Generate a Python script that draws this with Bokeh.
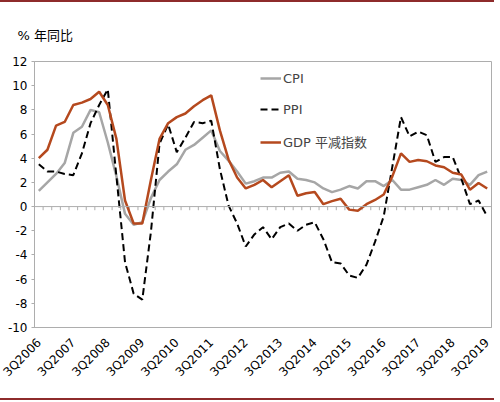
import numpy as np
from bokeh.plotting import figure
from bokeh.models import (ColumnDataSource, Range1d, FixedTicker, Span, Title,
                          Legend, LegendItem, Div)
from bokeh.layouts import column
from bokeh.embed import file_html
from bokeh.resources import INLINE

# ---------------- data ----------------
quarters = []
for yr in range(2006, 2020):
    for q in range(1, 5):
        if (yr == 2006 and q < 3) or (yr == 2019 and q > 3):
            continue
        quarters.append(f"{q}Q{yr}")

tick_labels = ["3Q2006", "3Q2007", "3Q2008", "3Q2009", "3Q2010", "3Q2011", "3Q2012",
               "3Q2013", "3Q2014", "3Q2015", "3Q2016", "3Q2017", "3Q2018", "3Q2019"]

cpi = [1.3, 2.0,
       2.7, 3.6, 6.1, 6.6,
       8.0, 7.8, 5.3, 2.5,
       -0.6, -1.5, -1.3, 0.7,
       2.2, 2.9, 3.5, 4.7,
       5.1, 5.7, 6.3, 4.6,
       3.8, 2.9, 1.9, 2.1,
       2.4, 2.4, 2.8, 2.9,
       2.3, 2.2, 2.0, 1.5,
       1.2, 1.4, 1.7, 1.5,
       2.1, 2.1, 1.7, 2.2,
       1.4, 1.4, 1.6, 1.8,
       2.2, 1.8, 2.3, 2.2,
       1.8, 2.6, 2.9]

ppi = [3.5, 2.9,
       2.9, 2.7, 2.6, 4.4,
       6.9, 8.4, 9.7, 2.5,
       -4.6, -7.2, -7.7, -2.1,
       5.2, 6.8, 4.5, 5.7,
       7.0, 6.9, 7.1, 3.1,
       0.1, -1.4, -3.3, -2.3,
       -1.7, -2.7, -1.7, -1.4,
       -2.0, -1.5, -1.3, -2.7,
       -4.6, -4.7, -5.7, -5.9,
       -4.8, -2.9, -0.8, 3.3,
       7.4, 5.8, 6.2, 5.9,
       3.7, 4.1, 4.1, 2.3,
       0.2, 0.5, -0.8]

gdp = [4.0, 4.7,
       6.7, 7.0, 8.4, 8.6,
       8.9, 9.5, 8.4, 5.6,
       0.5, -1.4, -1.4, 2.2,
       5.6, 6.9, 7.4, 7.7,
       8.3, 8.8, 9.2, 6.3,
       3.9, 2.4, 1.5, 1.8,
       2.2, 1.6, 2.1, 2.6,
       0.9, 1.1, 1.2, 0.2,
       0.45, 0.65, -0.25, -0.35,
       0.2, 0.55, 1.0, 2.5,
       4.4, 3.7, 3.85, 3.75,
       3.4, 3.25, 2.8, 2.65,
       1.4, 1.95, 1.5]

y_ticks = [-10, -8, -6, -4, -2, 0, 2, 4, 6, 8, 10, 12]

# ---------------- styling ----------------
FONT = "DejaVu Sans, Noto Sans CJK SC"
GRAY = "#A6A6A6"
FRAME = "#ADADAD"
BROWN = "#B5491E"
RED = "#8E2B2B"

n = len(quarters)
idx = list(range(n))
src = ColumnDataSource(dict(x=idx, cpi=cpi, ppi=ppi, gdp=gdp))

p = figure(width=494, height=396,
           x_range=Range1d(-0.5, n - 0.5), y_range=Range1d(-10, 12),
           output_backend="svg", toolbar_location=None,
           min_border_left=34, min_border_right=3,
           min_border_top=59, min_border_bottom=71)
p.outline_line_color = FRAME
p.grid.visible = False
p.background_fill_color = "white"
p.border_fill_color = "white"

# x axis (labels at bottom)
p.xaxis.ticker = FixedTicker(ticks=[quarters.index(t) for t in tick_labels])
p.xaxis.major_label_overrides = {quarters.index(t): t for t in tick_labels}
p.xaxis.major_label_orientation = np.pi / 4
p.xaxis.major_tick_line_color = None
p.xaxis.minor_tick_line_color = None
p.xaxis.axis_line_color = FRAME
p.xaxis.major_label_text_font = FONT
p.xaxis.major_label_text_font_size = "12px"
p.xaxis.major_label_text_color = "black"
p.xaxis.major_label_standoff = 7

# y axis
p.yaxis.ticker = FixedTicker(ticks=y_ticks)
p.yaxis.major_label_overrides = {t: str(t) for t in y_ticks}
p.yaxis.major_tick_out = 3
p.yaxis.major_tick_in = 0
p.yaxis.major_tick_line_color = FRAME
p.yaxis.minor_tick_line_color = None
p.yaxis.axis_line_color = FRAME
p.yaxis.major_label_text_font = FONT
p.yaxis.major_label_text_font_size = "12px"
p.yaxis.major_label_text_color = "black"
p.yaxis.major_label_standoff = 4

# zero line with category tick marks
p.add_layout(Span(location=0, dimension="width", line_color=FRAME, line_width=1))
bounds = [i - 0.5 for i in range(n + 1)]
tsrc = ColumnDataSource(dict(x=bounds, y0=[0] * len(bounds), y1=[-0.3] * len(bounds)))
p.segment(x0="x", y0="y0", x1="x", y1="y1", source=tsrc, line_color=FRAME, line_width=1)

# series
r_cpi = p.line("x", "cpi", source=src, line_color=GRAY, line_width=2.5)
r_ppi = p.line("x", "ppi", source=src, line_color="black", line_width=2, line_dash="7 4")
r_gdp = p.line("x", "gdp", source=src, line_color=BROWN, line_width=2.5)

legend = Legend(items=[LegendItem(label="CPI", renderers=[r_cpi]),
                       LegendItem(label="PPI", renderers=[r_ppi]),
                       LegendItem(label="GDP 平减指数", renderers=[r_gdp])],
                location=(226, 176), orientation="vertical",
                border_line_color=None, background_fill_alpha=0,
                padding=0, margin=0, spacing=15, label_height=16, glyph_height=16,
                glyph_width=21, label_standoff=2,
                label_text_font=FONT, label_text_font_size="13px")
p.add_layout(legend)

p.add_layout(Title(text="% 年同比", align="left", offset=-17, standoff=38,
                   text_font=FONT, text_font_size="13px", text_font_style="normal",
                   text_color="black"), "above")

top_bar = Div(text="", width=494, height=2, margin=0, styles={"background-color": RED})
bot_bar = Div(text="", width=494, height=2, margin=0, styles={"background-color": RED})

layout = column(top_bar, p, bot_bar, spacing=0)

open("out.html", "w").write(file_html(layout, INLINE))
